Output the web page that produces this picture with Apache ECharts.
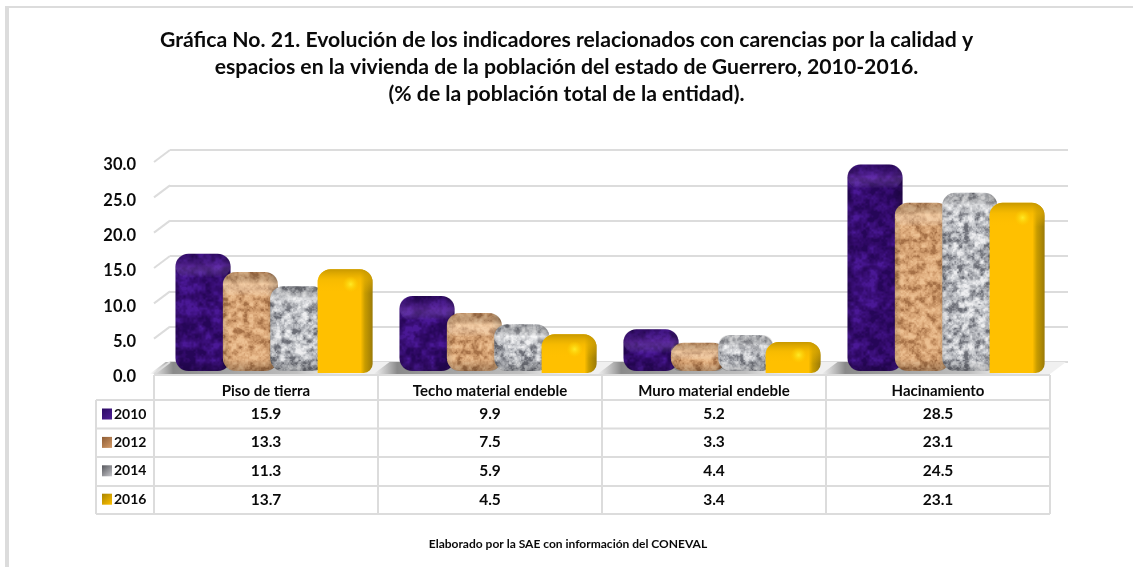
<!DOCTYPE html>
<html><head><meta charset="utf-8">
<style>html,body{margin:0;padding:0;background:#fff}#c{width:1133px;height:567px}</style>
<script src="https://cdn.jsdelivr.net/npm/echarts@6/dist/echarts.min.js"></script>
</head><body><div id="c"></div>
<script>
const categories = ['Piso de tierra','Techo material endeble','Muro material endeble','Hacinamiento'];
const years = ['2010','2012','2014','2016'];
const v2010 = [15.9,9.9,5.2,28.5];
const v2012 = [13.3,7.5,3.3,23.1];
const v2014 = [11.3,5.9,4.4,24.5];
const v2016 = [13.7,4.5,3.4,23.1];
const yTicks = [0,5,10,15,20,25,30];
const titleText = 'Gráfica No. 21. Evolución de los indicadores relacionados con carencias por la calidad y\nespacios en la vivienda de la población del estado de Guerrero, 2010-2016.\n(% de la población total de la entidad).';
const sourceText = 'Elaborado por la SAE con información del CONEVAL';

const FONT = 'Lato, Carlito, "Open Sans", sans-serif';
const LINE = '#dcdcdc';
const INK = '#0a0a0a';

// deterministic smooth-noise textures for the bar surfaces
function hash(x,y,s){const n=Math.sin(x*127.1+y*311.7+s*74.7)*43758.5453;return n-Math.floor(n);}
function noise(x,y,s,per){
  const xi=Math.floor(x),yi=Math.floor(y),xf=x-xi,yf=y-yi;
  const u=xf*xf*(3-2*xf),v=yf*yf*(3-2*yf);
  const w=(a,b)=>hash(((a%per)+per)%per,((b%per)+per)%per,s);
  return (w(xi,yi)*(1-u)+w(xi+1,yi)*u)*(1-v)+(w(xi,yi+1)*(1-u)+w(xi+1,yi+1)*u)*v;
}
function texture(stops,seed,sx,sy){
  const c=document.createElement('canvas');c.width=c.height=128;
  const g=c.getContext('2d'),im=g.createImageData(128,128);
  for(let y=0;y<128;y++)for(let x=0;x<128;x++){
    let t=0.5*noise(x/128*sx,y/128*sy,seed,sx)
         +0.3*noise(x/128*sx*2,y/128*sy*2,seed+1,sx*2)
         +0.2*noise(x/128*sx*4,y/128*sy*4,seed+2,sx*4);
    t=Math.max(0,Math.min(0.999,(t-0.26)/0.48));
    const p=t*(stops.length-1),i=Math.floor(p),f=p-i,a=stops[i],b=stops[i+1];
    const o=(y*128+x)*4;
    for(let k=0;k<3;k++)im.data[o+k]=a[k]+(b[k]-a[k])*f;
    im.data[o+3]=255;
  }
  g.putImageData(im,0,0);return c;
}
const purpleTex = texture([[38,6,88],[50,10,106],[60,16,125],[74,24,150]],3,16,16);
const tanTex = texture([[165,112,70],[200,148,102],[222,172,125],[236,192,146]],11,24,24);
const grayTex = texture([[108,110,118],[165,167,173],[204,206,210],[238,238,240]],23,24,24);

const lin=(x0,y0,x1,y1,stops)=>({type:'linear',x:x0,y:y0,x2:x1,y2:y1,colorStops:stops.map(c=>({offset:c[0],color:c[1]}))});
const rad=(c,a)=>({type:'radial',x:0.5,y:0.5,r:0.5,colorStops:[{offset:0,color:c},{offset:1,color:a}]});

function barGeom(api,s){
  const cat=api.value(0),val=api.value(1);
  const c0=api.coord([cat,0]),cv=api.coord([cat,val]);
  const band=api.size([1,0])[0];
  const x=c0[0]+band*(-0.404+s*0.2115),w=band*0.2455;
  return {x,w,top:cv[1]-8,bottom:c0[1]-3};
}
function texturedBar(s,tex,lightC){
  return (params,api)=>{
    const g=barGeom(api,s),h=g.bottom-g.top,r=Math.min(13,h/2.2);
    return {type:'group',children:[
      {type:'rect',shape:{x:g.x,y:g.top,width:g.w,height:h,r},style:{fill:{image:tex,repeat:'repeat'}}},
      {type:'rect',shape:{x:g.x,y:g.top,width:g.w,height:h,r},style:{fill:lin(0,0,1,0,[[0,'rgba(0,0,0,0.12)'],[0.12,'rgba(0,0,0,0)'],[0.8,'rgba(0,0,0,0)'],[1,'rgba(0,0,0,0.32)'] ])}},
      {type:'rect',shape:{x:g.x,y:g.top,width:g.w,height:Math.min(24,h*0.6),r},style:{fill:lin(0,0,0,1,[[0,'rgba(0,0,0,0.10)'],[0.5,lightC],[1,'rgba(255,255,255,0)']])}},
      {type:'rect',shape:{x:g.x,y:g.bottom-Math.min(12,h*0.3),width:g.w,height:Math.min(12,h*0.3),r:[0,0,r,r]},style:{fill:lin(0,0,0,1,[[0,'rgba(0,0,0,0)'],[1,'rgba(0,0,0,0.22)']])}}
    ]};
  };
}
function yellowBar(s){
  return (params,api)=>{
    const g=barGeom(api,s),bot=g.bottom+2,h=bot-g.top,r=Math.min(13,h/2.2),side=9;
    const cx=g.x+g.w*0.6,cy=g.top+Math.min(15,h*0.42);
    const capH=Math.min(24,h*0.7);
    return {type:'group',children:[
      {type:'rect',shape:{x:g.x,y:g.top,width:g.w,height:h,r:[r,r,side,0]},
       style:{fill:lin(0,0,1,0,[[0,'#ffc000'],[0.78,'#ffc000'],[0.86,'#c89c00'],[1,'#9a7a08']])}},
      {type:'rect',shape:{x:g.x,y:g.top,width:g.w,height:capH,r:[r,r,0,0]},
       style:{fill:lin(0,0,0,1,[[0,'rgba(196,150,0,0.95)'],[0.45,'rgba(240,182,0,0.5)'],[1,'rgba(255,192,0,0)']])}},
      {type:'circle',shape:{cx,cy,r:8},style:{fill:rad('rgba(255,236,40,0.95)','rgba(255,215,0,0)')}}
    ]};
  };
}
function floorItem(params,api){
  // floor plane with a soft shadow left of each bar cluster
  const cat=api.value(0);
  const c0=api.coord([cat,0]),band=api.size([1,0])[0];
  const y=c0[1],dx=16,dy=-12;
  const l=c0[0]-band/2,rr=c0[0]+band/2;
  const sx=c0[0]+band*(-0.404)-26;
  return {type:'group',children:[
    {type:'polygon',shape:{points:[[l,y],[rr,y],[rr+dx,y+dy],[l+dx,y+dy]]},style:{fill:'#f0f0f0'}},
    {type:'polygon',shape:{points:[[sx,y],[c0[0]+band*0.36,y],[c0[0]+band*0.36,y+dy],[sx+dx,y+dy]]},
     style:{fill:lin(0,0,1,0,[[0,'rgba(150,150,150,0)'],[0.12,'rgba(120,120,120,0.85)'],[0.75,'rgba(170,170,170,0.7)'],[1,'rgba(220,220,220,0)']])}}
  ]};
}
function diagItem(params,api){
  const c=api.coord([0,api.value(0)]),band=api.size([1,0])[0];
  const x=c[0]-band/2;
  return {type:'line',shape:{x1:x,y1:c[1],x2:x+16,y2:c[1]-12},style:{stroke:LINE,lineWidth:2}};
}

const swatches=[['#2b0a63','#4f1f96'],['#8e5c34','#d49b68'],['#55565c','#c8c8cc'],['#a88400','#ffc000']];
const rows=[v2010,v2012,v2014,v2016];
const chart=echarts.init(document.getElementById('c'),null,{renderer:'canvas'});
chart.setOption({
  animation:false,backgroundColor:'#fff',
  title:{text:titleText,left:566.5,top:27,padding:0,textAlign:'center',
    textStyle:{fontFamily:FONT,fontWeight:'bold',fontSize:21.2,lineHeight:26.7,color:INK}},
  legend:{show:true,orient:'vertical',left:102,top:406,padding:0,itemWidth:10,itemHeight:11,itemGap:12.4,icon:'rect',
    data:years.map((y,i)=>({name:y,itemStyle:{color:lin(0,0,1,1,[[0,swatches[i][0]],[1,swatches[i][1]]])}})),
    textStyle:{fontFamily:FONT,fontWeight:'bold',fontSize:14,color:INK,padding:[0,0,0,-3],lineHeight:16}},
  grid:[
    {left:154,right:83,top:162,bottom:193},
    {left:170,right:65,top:150,bottom:205},
    {left:154,right:83,top:165,bottom:190}
  ],
  xAxis:[
    {type:'category',gridIndex:0,data:categories,axisLine:{show:false},axisTick:{show:false},
      axisLabel:{margin:10,fontFamily:FONT,fontWeight:'bold',fontSize:15,color:INK}},
    {type:'category',gridIndex:1,data:categories,show:false},
    {type:'category',gridIndex:2,data:categories,show:false}
  ],
  yAxis:[
    {type:'value',gridIndex:0,min:0,max:30,interval:5,axisLine:{show:false},axisTick:{show:false},splitLine:{show:false},axisLabel:{show:false}},
    {type:'value',gridIndex:1,min:0,max:30,interval:5,axisLine:{show:false},axisTick:{show:false},axisLabel:{show:false},
      splitLine:{show:true,lineStyle:{color:LINE,width:2}}},
    {type:'value',gridIndex:2,min:0,max:30,interval:5,axisLine:{show:false},axisTick:{show:false},splitLine:{show:false},
      axisLabel:{margin:18,fontFamily:FONT,fontWeight:'bold',fontSize:16.5,color:INK,formatter:v=>v.toFixed(1)}}
  ],
  series:[
    {type:'custom',name:'floor',xAxisIndex:0,yAxisIndex:0,z:1,silent:true,data:categories.map((c,i)=>[i]),encode:{x:0},renderItem:floorItem},
    {type:'custom',name:'ticks',xAxisIndex:0,yAxisIndex:0,z:1,silent:true,data:yTicks.map(t=>[t]),encode:{y:0},renderItem:diagItem},
    {type:'custom',name:years[0],xAxisIndex:0,yAxisIndex:0,z:3,data:v2010.map((v,i)=>[i,v]),encode:{x:0,y:1},renderItem:texturedBar(0,purpleTex,'rgba(140,80,200,0.30)')},
    {type:'custom',name:years[1],xAxisIndex:0,yAxisIndex:0,z:4,data:v2012.map((v,i)=>[i,v]),encode:{x:0,y:1},renderItem:texturedBar(1,tanTex,'rgba(255,225,190,0.5)')},
    {type:'custom',name:years[2],xAxisIndex:0,yAxisIndex:0,z:5,data:v2014.map((v,i)=>[i,v]),encode:{x:0,y:1},renderItem:texturedBar(2,grayTex,'rgba(255,255,255,0.45)')},
    {type:'custom',name:years[3],xAxisIndex:0,yAxisIndex:0,z:6,data:v2016.map((v,i)=>[i,v]),encode:{x:0,y:1},renderItem:yellowBar(3)}
  ]
});
// frame, value table and source note
const px=i=>chart.convertToPixel({xAxisIndex:0},i);
const band=px(1)-px(0);
const left=px(0)-band/2, right=px(3)+band/2;
const rowY=[400,428.5,457,486,514], tableL=96, headTop=375;
const ln=(x1,y1,x2,y2,w=2)=>({type:'line',silent:true,z:10,shape:{x1,y1,x2,y2},style:{stroke:LINE,lineWidth:w}});
const g=[];
g.push({type:'rect',silent:true,z:9,shape:{x:5,y:6,width:4,height:561},style:{fill:'#dcdcdc'}});
g.push({type:'rect',silent:true,z:9,shape:{x:5,y:6,width:1128,height:2},style:{fill:'#dcdcdc'}});
rowY.forEach(y=>g.push(ln(tableL,y,right,y)));
g.push(ln(left,headTop,right,headTop));
g.push(ln(tableL,rowY[0],tableL,rowY[4]));
for(let i=0;i<=4;i++){g.push(ln(left+band*i,headTop,left+band*i,rowY[4]));}
rows.forEach((r,ri)=>r.forEach((v,ci)=>g.push({type:'text',silent:true,z:11,
  style:{text:v.toFixed(1),x:px(ci),y:(rowY[ri]+rowY[ri+1])/2-0.5,align:'center',verticalAlign:'middle',
    fontFamily:FONT,fontWeight:'bold',fontSize:15.5,fill:INK}})));
g.push({type:'text',silent:true,z:11,style:{text:sourceText,x:568,y:544,align:'center',verticalAlign:'middle',
  fontFamily:FONT,fontWeight:'bold',fontSize:12,fill:INK}});
chart.setOption({graphic:{elements:g}});
</script></body></html>
